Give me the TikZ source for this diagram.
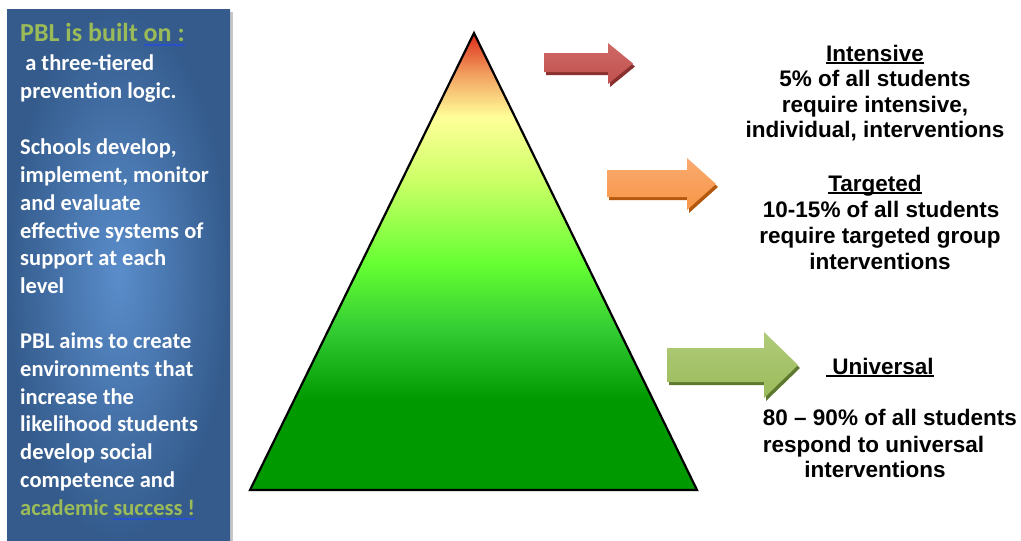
\documentclass[tikz,border=0pt]{standalone}
\usepackage{fontspec}
\newfontfamily\carlito{Carlito}
\newfontfamily\arialf{Liberation Sans}
\definecolor{panelin}{HTML}{5A8DCB}
\definecolor{panelout}{HTML}{345B8C}
\definecolor{titlegreen}{HTML}{9BBB59}
\definecolor{ulblue}{HTML}{2850C8}
\definecolor{ared}{HTML}{C0504D}
\definecolor{aredL}{HTML}{CF6A67}
\definecolor{aredD}{HTML}{8A302E}
\definecolor{aorg}{HTML}{F79646}
\definecolor{aorgL}{HTML}{F9AA70}
\definecolor{aorgD}{HTML}{B3590F}
\definecolor{agrn}{HTML}{9BBB59}
\definecolor{agrnL}{HTML}{B0CB7A}
\definecolor{agrnD}{HTML}{5F7830}
\definecolor{tg1}{HTML}{009900}
\definecolor{tg2}{HTML}{33CC33}
\definecolor{tg3}{HTML}{66FF33}
\definecolor{tg4}{HTML}{CCFF66}
\definecolor{tg5}{HTML}{FFFF99}
\definecolor{tg6}{HTML}{F2A060}
\definecolor{tg7}{HTML}{DC2A18}
\pgfdeclareverticalshading{tri}{100bp}{color(0bp)=(tg1); color(25bp)=(tg1); color(34.8bp)=(tg1); color(42.5bp)=(tg2); color(49.8bp)=(tg3); color(58.9bp)=(tg4); color(65.8bp)=(tg5); color(70.5bp)=(tg6); color(75bp)=(tg7); color(100bp)=(tg7)}
\newcommand\blueul[1]{\setbox0\hbox{#1}\rlap{\textcolor{ulblue}{\rule[-4.5pt]{\wd0}{1.3pt}}}\box0}
\newcommand\blackul[1]{\setbox0\hbox{#1}\rlap{\rule[-3pt]{\wd0}{1.7pt}}\box0}
\tikzset{
  paneltxt/.style={inner sep=0pt, anchor=base west, text=white, font=\carlito\bfseries\fontsize{22.5}{27}\selectfont},
  titletxt/.style={inner sep=0pt, anchor=base west, text=titlegreen, font=\carlito\bfseries\fontsize{26}{30}\selectfont},
  righttxt/.style={inner sep=0pt, anchor=base, text=black, font=\arialf\bfseries\fontsize{22.5}{26}\selectfont},
}
\begin{document}
\begin{tikzpicture}[x=1pt,y=-1pt]
\useasboundingbox (0,0) rectangle (1021,541);
% panel
\fill[black!22] (10,12) rectangle (233,541);
\shade[inner color=panelin, outer color=panelout] (7,9) rectangle (230,541);
\node[titletxt] (p0) at (20,41) {PBL is built \blueul{on :}};
\node[paneltxt] (p1) at (20,70) {\ a three-tiered};
\node[paneltxt] (p2) at (20,98) {prevention logic.};
\node[paneltxt] (p3) at (20,154) {Schools develop,};
\node[paneltxt] (p4) at (20,182) {implement, monitor};
\node[paneltxt] (p5) at (20,210) {and evaluate};
\node[paneltxt] (p6) at (20,238) {effective systems of};
\node[paneltxt] (p7) at (20,265) {support at each};
\node[paneltxt] (p8) at (20,293) {level};
\node[paneltxt] (p9) at (20,348) {PBL aims to create};
\node[paneltxt] (p10) at (20,376) {environments that};
\node[paneltxt] (p11) at (20,404) {increase the};
\node[paneltxt] (p12) at (20,431) {likelihood students};
\node[paneltxt] (p13) at (20,459) {develop social};
\node[paneltxt] (p14) at (20,487) {competence and};
\node[paneltxt, text=titlegreen] (p15) at (20,515) {academic \blueul{success !}};
% triangle
\coordinate (apex) at (474,33);
\coordinate (bl) at (250,490);
\coordinate (br) at (697,490);
\shade[shading=tri] (apex) -- (bl) -- (br) -- cycle;
\draw[line width=2.2pt, line join=miter] (apex) -- (bl) -- (br) -- cycle;
% arrows
\foreach \xa/\xh/\xt/\ba/\bb/\ha/\hb/\c/\cl/\cd in {544/608/633/53/72/43/84/ared/aredL/aredD, 607/687/716/170/197/158/210/aorg/aorgL/aorgD, 667/764/798/348/382/332/398/agrn/agrnL/agrnD}{
  \pgfmathsetmacro\ym{(\ha+\hb)/2}
  \fill[\cd, shift={(2,3)}] (\xa,\ba) -- (\xh,\ba) -- (\xh,\ha) -- (\xt,\ym) -- (\xh,\hb) -- (\xh,\bb) -- (\xa,\bb) -- cycle;
  \shade[top color=\cl, bottom color=\c] (\xa,\ba) -- (\xh,\ba) -- (\xh,\ha) -- (\xt,\ym) -- (\xh,\hb) -- (\xh,\bb) -- (\xa,\bb) -- cycle;
}
% right texts
\node[righttxt] (i0) at (875,61) {\blackul{Intensive}};
\node[righttxt] (i1) at (875,86) {5\% of all students};
\node[righttxt] (i2) at (875,112) {require intensive,};
\node[righttxt] (i3) at (875,137) {individual, interventions};
\node[righttxt] (t0) at (875,191) {\blackul{Targeted}};
\node[righttxt] (t1) at (878,217) {\ 10-15\% of all students};
\node[righttxt] (t2) at (880,243) {require targeted group};
\node[righttxt] (t3) at (880,269) {interventions};
\node[righttxt, anchor=base west] (u0) at (826,374) {\blackul{\ Universal}};
\node[righttxt, anchor=base east] (u1) at (1017,425) {80 – 90\% of all students};
\node[righttxt, anchor=base west] (u2) at ([yshift=-27pt]u1.base west) {respond to universal};
\node[righttxt] (u3) at (875,477) {interventions};
\end{tikzpicture}
\end{document}
